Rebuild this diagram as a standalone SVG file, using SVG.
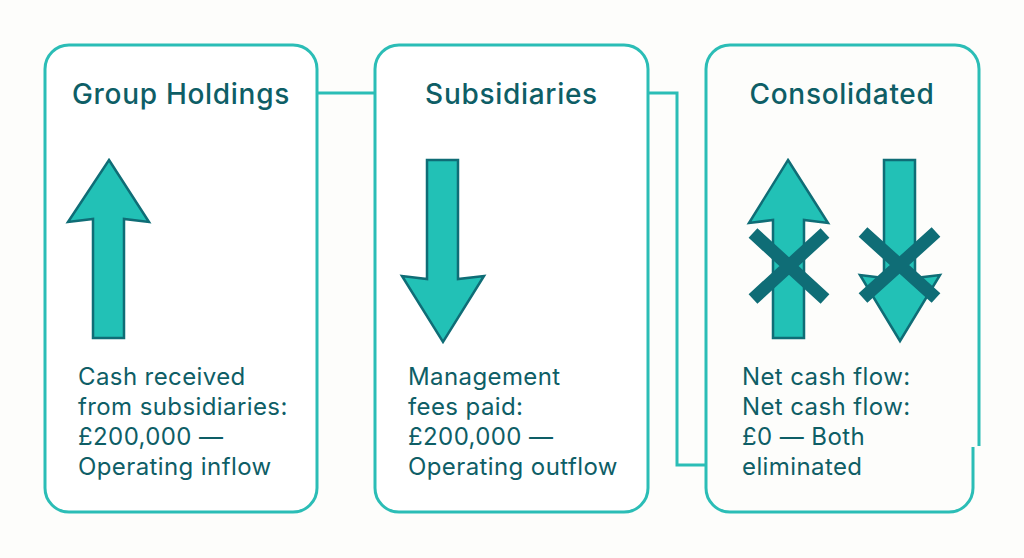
<svg xmlns="http://www.w3.org/2000/svg" width="1024" height="558" viewBox="0 0 1024 558">
  <defs>
    <style>
      .box { fill: #ffffff; stroke: #2bbdb6; stroke-width: 3; }
      .edge { fill: none; stroke: #2bbdb6; stroke-width: 3; }
      .title { font-family: Inter, "Noto Sans", sans-serif; font-size: 28px; font-weight: 500; letter-spacing: 0.7px; fill: #0e5e66; text-anchor: middle; }
      .body { font-family: Inter, "Noto Sans", sans-serif; font-size: 24px; letter-spacing: 0.4px; fill: #0e5e66; }
      .arrow { fill: #22c1b6; stroke: #0f6d76; stroke-width: 2.5; stroke-linejoin: miter; }
      .cross { stroke: #0f6d76; stroke-width: 13; stroke-linecap: butt; }
    </style>
  </defs>
  <rect x="0" y="0" width="1024" height="558" fill="#fdfdfb"/>

  <g id="connectors">
    <path class="edge" d="M317 93 H375"/>
    <path class="edge" d="M648 93 H677 V465 H706"/>
  </g>

  <g id="group-holdings">
    <rect class="box" x="45" y="45" width="272" height="467" rx="24"/>
    <text class="title" x="181" y="104">Group Holdings</text>
    <path class="arrow" d="M109 160 L149 222 L124 219 L124 338 L93 338 L93 219 L68 222 Z"/>
    <text class="body" x="78" y="385">Cash received</text>
    <text class="body" x="78" y="415">from subsidiaries:</text>
    <text class="body" x="78" y="445">£200,000 —</text>
    <text class="body" x="78" y="475">Operating inflow</text>
  </g>

  <g id="subsidiaries">
    <rect class="box" x="375" y="45" width="273" height="467" rx="24"/>
    <text class="title" x="511.5" y="104">Subsidiaries</text>
    <path class="arrow" d="M427 160 L458 160 L458 279 L484 276 L443 342 L402 276 L427 279 Z"/>
    <text class="body" x="408" y="385">Management</text>
    <text class="body" x="408" y="415">fees paid:</text>
    <text class="body" x="408" y="445">£200,000 —</text>
    <text class="body" x="408" y="475">Operating outflow</text>
  </g>

  <g id="consolidated">
    <path class="edge" d="M979 446 V69 A24 24 0 0 0 955 45 H730 A24 24 0 0 0 706 69 V488 A24 24 0 0 0 730 512 H949 A24 24 0 0 0 973 488 V447" fill="#ffffff"/>
    <text class="title" x="842" y="104">Consolidated</text>
    <path class="arrow" d="M788 160 L828 223 L804 220 L804 338 L773 338 L773 220 L749 223 Z"/>
    <path class="arrow" d="M884 160 L915 160 L915 278 L940 275 L900 341 L860 275 L884 278 Z"/>
    <path class="cross" d="M753 233 L825 299 M825 233 L753 299"/>
    <path class="cross" d="M863 232 L936 298 M936 232 L863 298"/>
    <text class="body" x="742" y="385">Net cash flow:</text>
    <text class="body" x="742" y="415">Net cash flow:</text>
    <text class="body" x="742" y="445">£0 — Both</text>
    <text class="body" x="742" y="475">eliminated</text>
  </g>
</svg>
